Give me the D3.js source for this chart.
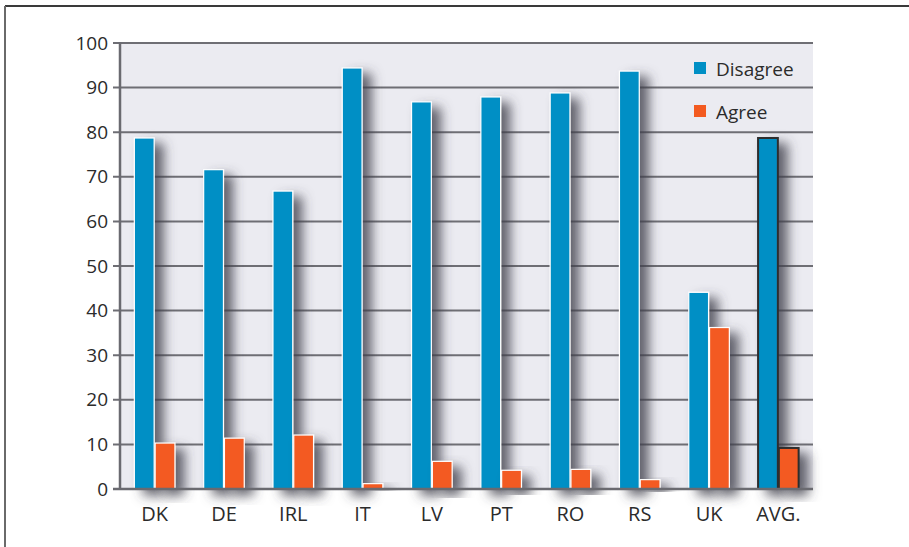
<!DOCTYPE html>
<html>
<head>
<meta charset="utf-8">
<script src="https://cdn.jsdelivr.net/npm/d3@7"></script>
<style>
  body { margin: 0; background: #fff; }
  text { font-family: "Open Sans", "DejaVu Sans", sans-serif; fill: #2b2b2b; }
</style>
</head>
<body>
<svg id="chart" width="909" height="547"></svg>
<script>
'use strict'

// data
const countries = ["DK", "DE", "IRL", "IT", "LV", "PT", "RO", "RS", "UK", "AVG."]
const disagree = [78.7, 71.6, 66.8, 94.4, 86.8, 87.9, 88.8, 93.7, 44.1, 78.7]
const agree = [10.3, 11.4, 12.1, 1.2, 6.2, 4.2, 4.4, 2.1, 36.2, 9.2]
const seriesNames = ["Disagree", "Agree"]
const seriesColors = ["#008fc5", "#f35a20"]
const yTicks = [0, 10, 20, 30, 40, 50, 60, 70, 80, 90, 100]

const margins = {top: 43, right: 96, bottom: 58, left: 120}
const width = 909, height = 547
const svg = d3.select('#chart')

// soft drop shadow for the bars
const defs = svg.append("defs")
const shadow = defs.append("filter").attr("id", "shadow")
  .attr("x", "-50%").attr("y", "-20%").attr("width", "300%").attr("height", "150%")
shadow.append("feDropShadow")
  .attr("dx", 9).attr("dy", 6).attr("stdDeviation", 6)
  .attr("flood-color", "#3c3c4a").attr("flood-opacity", 0.8)

// frame (top and left edges only)
svg.append("line").attr("x1", 5).attr("x2", width).attr("y1", 6).attr("y2", 6)
  .attr("stroke", "#3a3a3a").attr("stroke-width", 2)
svg.append("line").attr("x1", 5).attr("x2", 5).attr("y1", 6).attr("y2", height)
  .attr("stroke", "#6a6a6a").attr("stroke-width", 2)

const x = d3.scaleBand().domain(countries)
  .range([margins.left, width - margins.right]).paddingInner(0.4).paddingOuter(0.2)
const xSub = d3.scaleBand().domain(seriesNames).range([0, x.bandwidth()])
const y = d3.scaleLinear().domain([0, 100]).range([height - margins.bottom, margins.top])

// plot background
svg.append("rect")
  .attr("x", margins.left).attr("y", y(100))
  .attr("width", width - margins.right - margins.left).attr("height", y(0) - y(100))
  .attr("fill", "#ebebf1")

// gridlines with ticks
svg.append("g").selectAll("line").data(yTicks.filter(d => d > 0)).enter().append("line")
  .attr("x1", margins.left - 7).attr("x2", width - margins.right)
  .attr("y1", d => y(d)).attr("y2", d => y(d))
  .attr("stroke", "#6e6e74").attr("stroke-width", 2)

// bars
const rows = countries.map((c, i) => ({country: c, values: [disagree[i], agree[i]]}))
const group = svg.append("g").selectAll("g").data(rows).enter().append("g")
  .attr("transform", d => "translate(" + x(d.country) + ",0)")
group.selectAll("rect").data(d => d.values.map((v, j) => ({v: v, j: j, avg: d.country === "AVG."})))
  .enter().append("rect")
  .attr("x", d => xSub(seriesNames[d.j]) + 0.5)
  .attr("y", d => y(d.v))
  .attr("width", xSub.bandwidth() - 1)
  .attr("height", d => y(0) - y(d.v))
  .attr("fill", d => seriesColors[d.j])
  .attr("stroke", d => d.avg ? "#2e2e2e" : "#ffffff")
  .attr("stroke-width", d => d.avg ? 2 : 1.2)
  .attr("filter", "url(#shadow)")

// axes
const axisColor = "#6a6a70"
svg.append("line").attr("x1", margins.left).attr("x2", margins.left)
  .attr("y1", y(100) - 1).attr("y2", y(0) + 1)
  .attr("stroke", axisColor).attr("stroke-width", 2.5)
svg.append("line").attr("x1", margins.left - 7).attr("x2", width - margins.right)
  .attr("y1", y(0)).attr("y2", y(0))
  .attr("stroke", axisColor).attr("stroke-width", 2.5)

const yAxis = svg.append("g")
  .attr("transform", "translate(" + margins.left + ",0)")
  .call(d3.axisLeft(y).tickValues(yTicks).tickSize(0).tickPadding(12))
yAxis.select(".domain").remove()
yAxis.selectAll("text").style("font-size", "19px").attr("fill", "#2b2b2b")

const xAxis = svg.append("g")
  .attr("transform", "translate(0," + y(0) + ")")
  .call(d3.axisBottom(x).tickSize(0).tickPadding(18))
xAxis.select(".domain").remove()
xAxis.selectAll("text").style("font-size", "20px").attr("fill", "#2b2b2b")

// legend
const legend = svg.append("g").selectAll("g").data(seriesNames).enter().append("g")
  .attr("transform", (d, i) => "translate(694," + (62 + i * 43) + ")")
legend.append("rect").attr("width", 12).attr("height", 12)
  .attr("fill", (d, i) => seriesColors[i])
legend.append("text").attr("x", 22).attr("y", 14).text(d => d)
  .style("font-size", "19px")
</script>
</body>
</html>
